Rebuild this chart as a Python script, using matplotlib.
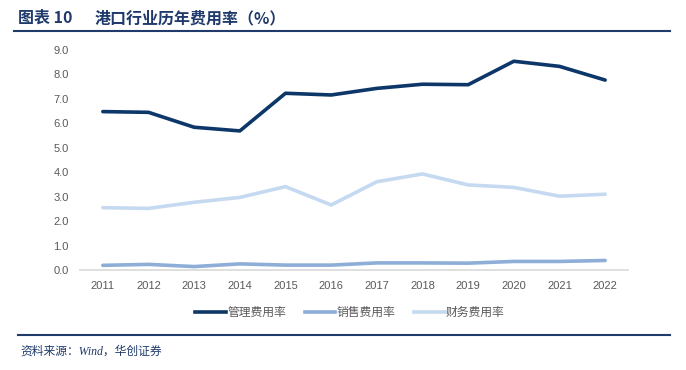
import matplotlib
matplotlib.use('Agg')
import matplotlib.pyplot as plt
from matplotlib.lines import Line2D

plt.rcParams['font.family'] = ['Liberation Sans', 'Noto Sans CJK SC', 'DejaVu Sans']

years = ['2011', '2012', '2013', '2014', '2015', '2016', '2017', '2018', '2019', '2020', '2021', '2022']
admin_rate = [6.48, 6.45, 5.84, 5.69, 7.23, 7.16, 7.43, 7.60, 7.58, 8.54, 8.33, 7.77]
sales_rate = [0.19, 0.23, 0.14, 0.25, 0.20, 0.20, 0.29, 0.29, 0.28, 0.35, 0.35, 0.39]
fin_rate = [2.55, 2.52, 2.77, 2.97, 3.41, 2.66, 3.61, 3.93, 3.48, 3.38, 3.02, 3.10]
series_names = ['管理费用率', '销售费用率', '财务费用率']
colors = ['#0C3768', '#8EAED8', '#C5D9F1']
navy = '#1F3A6B'

fig = plt.figure(figsize=(6.86, 3.70), dpi=100)
ax = fig.add_axes([80/686, 1-270/370, 548/686, 220/370])

x = list(range(len(years)))
for vals, c, name in zip([admin_rate, sales_rate, fin_rate], colors, series_names):
    ax.plot(x, vals, color=c, lw=2.6, label=name, solid_capstyle='round', solid_joinstyle='round')

ax.set_xlim(-0.5, len(years) - 0.5)
ax.set_ylim(0, 9)
ax.set_yticks([i * 1.0 for i in range(10)])
ax.set_yticklabels(['%.1f' % (i * 1.0) for i in range(10)])
ax.set_xticks(x)
ax.set_xticklabels(years)
ax.tick_params(axis='both', length=0, labelsize=8, labelcolor='#595959')
ax.tick_params(axis='x', pad=8)
ax.tick_params(axis='y', pad=8)
for s in ['top', 'right', 'left']:
    ax.spines[s].set_visible(False)
ax.spines['bottom'].set_color('#D9D9D9')
ax.spines['bottom'].set_linewidth(1.2)

handles = [Line2D([0], [0], color=c, lw=2.6) for c in colors]
fig.legend(handles, series_names, loc='center', bbox_to_anchor=(350/686, 1-313/370),
           ncol=3, frameon=False, fontsize=8.5, handlelength=2.6, handletextpad=0.1,
           columnspacing=1.6, labelcolor='#595959')

# title and rules
fig.text(18/686, 1-18/370, '图表 10', fontsize=11.5, fontweight='bold',
         color=navy, va='center', ha='left', family=['Noto Sans CJK SC'])
fig.text(95/686, 1-18/370, '港口行业历年费用率（%）', fontsize=11.5, fontweight='bold',
         color=navy, va='center', ha='left', family=['Noto Sans CJK SC'])
fig.add_artist(Line2D([14/686, 670/686], [1-31/370, 1-31/370], color=navy, lw=1.5))
fig.add_artist(Line2D([18/686, 670/686], [1-335/370, 1-335/370], color=navy, lw=1.5))
fig.text(20/686, 1-352/370, '资料来源：Wind，华创证券', fontsize=8.5, style='italic',
         color=navy, va='center', ha='left', family=['Liberation Serif', 'Noto Sans CJK SC'])

fig.savefig('out.png', dpi=100)
